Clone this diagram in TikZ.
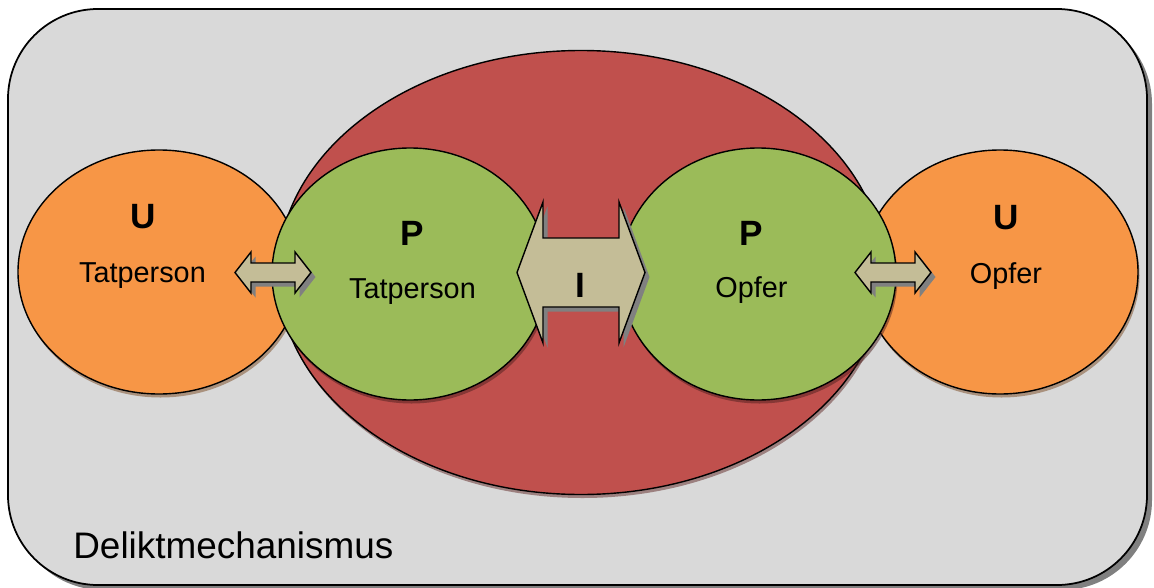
\documentclass[tikz,border=0pt]{standalone}
\usepackage{fontspec}
\setmainfont{Liberation Sans}
\usetikzlibrary{calc,shapes.geometric,shadows}

\definecolor{boxgray}{HTML}{D9D9D9}
\definecolor{mechred}{HTML}{C0504D}
\definecolor{pgreen}{HTML}{9BBB59}
\definecolor{uorange}{HTML}{F79646}
\definecolor{arrowtan}{HTML}{C4BD97}

% double block arrow: centre, half length, head length, half shaft, half head
\newcommand{\dblarrow}[5]{%
  \draw[ArrowStyle] ($(#1)+(-#2,0)$) -- ($(#1)+({-#2+#3},-#5)$) -- ($(#1)+({-#2+#3},-#4)$)
    -- ($(#1)+({#2-#3},-#4)$) -- ($(#1)+({#2-#3},-#5)$) -- ($(#1)+(#2,0)$)
    -- ($(#1)+({#2-#3},#5)$) -- ($(#1)+({#2-#3},#4)$) -- ($(#1)+({-#2+#3},#4)$)
    -- ($(#1)+({-#2+#3},#5)$) -- cycle;}

\begin{document}
\begin{tikzpicture}[x=0.2mm, y=-0.2mm]
    \tikzset{BoxStyle/.style = {draw, line width=1pt, fill=boxgray,
        rounded corners=18mm, inner sep=0,
        drop shadow={shadow xshift=1mm, shadow yshift=-1mm, fill=black!50, opacity=1}},
      EllStyle/.style = {ellipse, draw, line width=0.8pt, inner sep=0},
      ArrowStyle/.style = {draw, line width=0.8pt, fill=arrowtan,
        drop shadow={shadow xshift=0.9mm, shadow yshift=-0.9mm, fill=black!50, opacity=1}},
      BigText/.style = {font=\fontsize{20}{24}\selectfont\bfseries, anchor=base, inner sep=0},
      SmallText/.style = {font=\fontsize{16.4}{20}\selectfont, anchor=base, inner sep=0}}
    \useasboundingbox (0,0) rectangle (1154,588);
    \node[BoxStyle, minimum width=227.8mm, minimum height=115.2mm] (D) at (577.5,297) {};
    \node[font=\fontsize{21}{25}\selectfont, anchor=base west, inner sep=0] at (73,558) {Deliktmechanismus};
    % outer mechanism
    \node[EllStyle, fill=mechred, minimum width=121.2mm, minimum height=88.8mm,
      drop shadow={shadow xshift=0.3mm, shadow yshift=-0.7mm, fill=mechred!50!black, opacity=0.5}] (M) at (581,272.5) {};
    % U and P ellipses
    \node[EllStyle, fill=uorange, minimum width=56.4mm, minimum height=48.8mm,
      drop shadow={shadow xshift=0.3mm, shadow yshift=-0.7mm, fill=uorange!50!black, opacity=0.5}] (UT) at (159,272) {};
    \node[EllStyle, fill=uorange, minimum width=55.2mm, minimum height=48.8mm,
      drop shadow={shadow xshift=0.3mm, shadow yshift=-0.7mm, fill=uorange!50!black, opacity=0.5}] (UO) at (1000,272) {};
    \node[EllStyle, fill=pgreen, minimum width=55.2mm, minimum height=50.4mm,
      drop shadow={shadow xshift=0.3mm, shadow yshift=-0.7mm, fill=mechred!40!black, opacity=0.5}] (PT) at (410,274) {};
    \node[EllStyle, fill=pgreen, minimum width=55.2mm, minimum height=50.4mm,
      drop shadow={shadow xshift=0.3mm, shadow yshift=-0.7mm, fill=mechred!40!black, opacity=0.5}] (PO) at (758,274) {};
    % arrows
    \coordinate (aL) at (273,272.5);
    \coordinate (aR) at (893,272.5);
    \coordinate (aI) at (581,272.5);
    \dblarrow{aL}{38}{16}{9.5}{20.5}
    \dblarrow{aR}{38}{16}{9.5}{20.5}
    \dblarrow{aI}{64}{26}{34.5}{70.5}
    % texts
    \node[BigText] (uT) at (143.5,228) {U};
    \node[SmallText] (tT) at (142.5,282) {Tatperson};
    \node[BigText] (pT) at (412.5,245) {P};
    \node[SmallText] (tP) at (412.5,298) {Tatperson};
    \node[BigText] (iI) at (580,297) {I};
    \node[BigText] (pO) at (751.5,245) {P};
    \node[SmallText] (oP) at (751.5,297) {Opfer};
    \node[BigText] (uO) at (1006.5,229) {U};
    \node[SmallText] (oU) at (1006,283) {Opfer};
\end{tikzpicture}
\end{document}
